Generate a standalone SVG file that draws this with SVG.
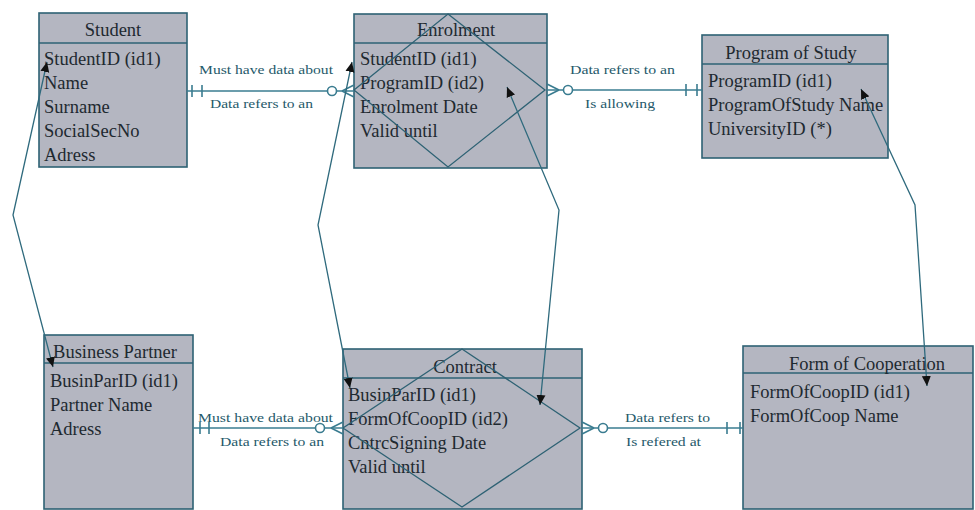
<svg xmlns="http://www.w3.org/2000/svg" width="975" height="510" viewBox="0 0 975 510">
<defs>
<style>
.box{fill:#b4b6c1;stroke:#2e6274;stroke-width:1.6}
.sep{stroke:#2e6274;stroke-width:1.4;fill:none}
.dia{stroke:#2e6274;stroke-width:1.3;fill:none}
.title{font-family:"Liberation Serif",serif;font-size:18.5px;fill:#1e2930;text-anchor:middle}
.attr{font-family:"Liberation Serif",serif;font-size:18.5px;fill:#1e2930}
.lbl{font-family:"Liberation Serif",serif;font-size:13px;fill:#25596a}
.ln{stroke:#3a7c90;stroke-width:1.6;fill:none}
.circ{stroke:#3a7c90;stroke-width:1.6;fill:#ffffff}
.arr{stroke:#2f6a7d;stroke-width:1.3;fill:none;marker-start:url(#ah);marker-end:url(#ah)}
</style>
<marker id="ah" viewBox="0 0 10 10" refX="10" refY="5" markerWidth="10" markerHeight="10" markerUnits="userSpaceOnUse" orient="auto-start-reverse">
<path d="M0,0.5 L10,5 L0,9.5 Z" fill="#111"/>
</marker>
</defs>
<rect width="975" height="510" fill="#ffffff"/>

<g id="student">
<rect class="box" x="39" y="13" width="148" height="154"/>
<line class="sep" x1="39" y1="43" x2="187" y2="43"/>
<text class="title" x="113" y="36">Student</text>
<text class="attr" x="44" y="65">StudentID (id1)</text>
<text class="attr" x="44" y="89">Name</text>
<text class="attr" x="44" y="113">Surname</text>
<text class="attr" x="44" y="137">SocialSecNo</text>
<text class="attr" x="44" y="161">Adress</text>
</g>

<g id="enrolment">
<rect class="box" x="354" y="14" width="193" height="154"/>
<line class="sep" x1="354" y1="43" x2="547" y2="43"/>
<text class="title" x="456" y="36">Enrolment</text>
<text class="attr" x="360" y="65">StudentID (id1)</text>
<text class="attr" x="360" y="89">ProgramID (id2)</text>
<text class="attr" x="360" y="113">Enrolment Date</text>
<text class="attr" x="360" y="137">Valid until</text>
<polygon class="dia" points="448,14 545,90 448,167 354,90"/>
</g>

<g id="program">
<rect class="box" x="702" y="35" width="186" height="123"/>
<line class="sep" x1="702" y1="64" x2="888" y2="64"/>
<text class="title" x="791" y="59">Program of Study</text>
<text class="attr" x="708" y="87">ProgramID (id1)</text>
<text class="attr" x="708" y="111">ProgramOfStudy Name</text>
<text class="attr" x="708" y="135">UniversityID (*)</text>
</g>

<g id="business-partner">
<rect class="box" x="44" y="335" width="149" height="174"/>
<line class="sep" x1="44" y1="363" x2="193" y2="363"/>
<text class="title" x="115" y="358">Business Partner</text>
<text class="attr" x="50" y="387">BusinParID (id1)</text>
<text class="attr" x="50" y="411">Partner Name</text>
<text class="attr" x="50" y="435">Adress</text>
</g>

<g id="contract">
<rect class="box" x="343" y="349" width="239" height="160"/>
<line class="sep" x1="343" y1="378" x2="582" y2="378"/>
<text class="title" x="465" y="373">Contract</text>
<text class="attr" x="348" y="401">BusinParID (id1)</text>
<text class="attr" x="348" y="425">FormOfCoopID (id2)</text>
<text class="attr" x="348" y="449">CntrcSigning Date</text>
<text class="attr" x="348" y="473">Valid until</text>
<polygon class="dia" points="462,349 580,428 462,507 343,428"/>
</g>

<g id="form-of-cooperation">
<rect class="box" x="743" y="346" width="230" height="163"/>
<line class="sep" x1="743" y1="373" x2="973" y2="373"/>
<text class="title" x="867" y="370">Form of Cooperation</text>
<text class="attr" x="750" y="398">FormOfCoopID (id1)</text>
<text class="attr" x="750" y="422">FormOfCoop Name</text>
</g>

<g id="connectors">
<!-- Student - Enrolment -->
<line class="ln" x1="187" y1="91" x2="354" y2="91"/>
<line class="ln" x1="192" y1="85" x2="192" y2="97"/>
<line class="ln" x1="202" y1="85" x2="202" y2="97"/>
<path class="ln" d="M342,91 L354,85 M342,91 L354,97"/>
<circle class="circ" cx="332" cy="91" r="4.5"/>
<text class="lbl" x="199" y="74" textLength="134" lengthAdjust="spacingAndGlyphs">Must have data about</text>
<text class="lbl" x="210" y="108" textLength="103" lengthAdjust="spacingAndGlyphs">Data refers to an</text>

<!-- Enrolment - Program -->
<line class="ln" x1="547" y1="90" x2="702" y2="90"/>
<path class="ln" d="M559,90 L547,84 M559,90 L547,96"/>
<circle class="circ" cx="568" cy="90" r="4.5"/>
<line class="ln" x1="686" y1="84" x2="686" y2="96"/>
<line class="ln" x1="697" y1="84" x2="697" y2="96"/>
<text class="lbl" x="570" y="74" textLength="105" lengthAdjust="spacingAndGlyphs">Data refers to an</text>
<text class="lbl" x="585" y="108" textLength="70" lengthAdjust="spacingAndGlyphs">Is allowing</text>

<!-- Business Partner - Contract -->
<line class="ln" x1="193" y1="428" x2="343" y2="428"/>
<line class="ln" x1="200" y1="422" x2="200" y2="434"/>
<line class="ln" x1="209" y1="422" x2="209" y2="434"/>
<path class="ln" d="M331,428 L343,422 M331,428 L343,434"/>
<circle class="circ" cx="320" cy="428" r="4.5"/>
<text class="lbl" x="198" y="422" textLength="135" lengthAdjust="spacingAndGlyphs">Must have data about</text>
<text class="lbl" x="220" y="446" textLength="104" lengthAdjust="spacingAndGlyphs">Data refers to an</text>

<!-- Contract - Form of Cooperation -->
<line class="ln" x1="582" y1="428" x2="743" y2="428"/>
<path class="ln" d="M594,428 L582,422 M594,428 L582,434"/>
<circle class="circ" cx="603" cy="428" r="4.5"/>
<line class="ln" x1="727" y1="422" x2="727" y2="434"/>
<line class="ln" x1="740" y1="422" x2="740" y2="434"/>
<text class="lbl" x="625" y="422" textLength="85" lengthAdjust="spacingAndGlyphs">Data refers to</text>
<text class="lbl" x="626" y="446" textLength="75" lengthAdjust="spacingAndGlyphs">Is refered at</text>

<!-- long arrows -->
<polyline class="arr" points="47,62 13,215 53,367"/>
<polyline class="arr" points="352,62 318,225 350,388"/>
<polyline class="arr" points="507,87 559,210 540,405"/>
<polyline class="arr" points="861,89 915,205 927,386"/>
</g>
</svg>
